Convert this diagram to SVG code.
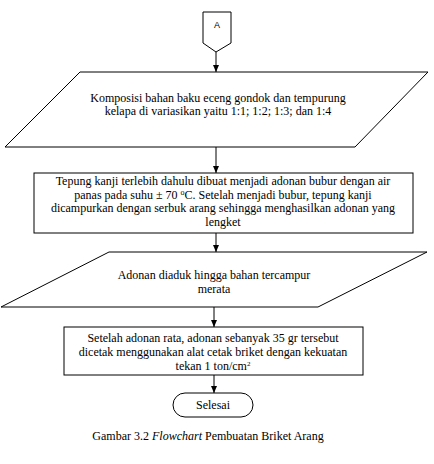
<svg xmlns="http://www.w3.org/2000/svg" width="434" height="464" viewBox="0 0 434 464">
<defs>
<style>
.s{fill:#fff;stroke:#000;stroke-width:1}
.t{font-family:"Liberation Serif","Times New Roman",serif;font-size:12px;fill:#000;text-anchor:middle}
.c{stroke:#000;stroke-width:1;fill:none;marker-end:url(#ah)}
</style>
<marker id="ah" markerWidth="8" markerHeight="8" refX="7" refY="4" orient="auto" markerUnits="userSpaceOnUse">
<path d="M0,1 L7,4 L0,7 Z" fill="#000"/>
</marker>
</defs>
<rect width="434" height="464" fill="#fff"/>
<g id="connectors">
<line class="c" x1="216" y1="52" x2="216" y2="72"/>
<line class="c" x1="216" y1="147" x2="216" y2="173"/>
<line class="c" x1="216" y1="233" x2="216" y2="252"/>
<line class="c" x1="214" y1="307" x2="214" y2="327"/>
<line class="c" x1="214" y1="375" x2="214" y2="393"/>
</g>
<g id="A">
<path class="s" d="M203,12 H231 V43 L216,52 L203,43 Z"/>
<text class="t" x="217" y="28" style="font-family:'Liberation Sans',Arial,sans-serif;font-size:9px">A</text>
</g>
<g id="komposisi">
<path class="s" d="M80,72 H428 L355,147 H5 Z"/>
<text class="t" x="218" y="102">Komposisi bahan baku eceng gondok dan tempurung</text>
<text class="t" x="218" y="115">kelapa di variasikan yaitu 1:1; 1:2; 1:3; dan 1:4</text>
</g>
<g id="tepung">
<rect class="s" x="34" y="173" width="379" height="60"/>
<text class="t" x="223" y="185">Tepung kanji terlebih dahulu dibuat menjadi adonan bubur dengan air</text>
<text class="t" x="223" y="199">panas pada suhu ± 70 <tspan dy="-4" font-size="8">o</tspan><tspan dy="4">C. Setelah menjadi bubur, tepung kanji</tspan></text>
<text class="t" x="223" y="212">dicampurkan dengan serbuk arang sehingga menghasilkan adonan yang</text>
<text class="t" x="223" y="226">lengket</text>
</g>
<g id="adonan">
<path class="s" d="M109,252 H427 L318,307 H1 Z"/>
<text class="t" x="214" y="279">Adonan diaduk hingga bahan tercampur</text>
<text class="t" x="214" y="293">merata</text>
</g>
<g id="cetak">
<rect class="s" x="64" y="327" width="299" height="48"/>
<text class="t" x="213" y="342">Setelah adonan rata, adonan sebanyak 35 gr tersebut</text>
<text class="t" x="213" y="356">dicetak menggunakan alat cetak briket dengan kekuatan</text>
<text class="t" x="213" y="370">tekan 1 ton/cm<tspan dy="-4" font-size="7">2</tspan></text>
</g>
<g id="selesai">
<rect class="s" x="173" y="393" width="80" height="24" rx="12" ry="12"/>
<text class="t" x="213" y="409">Selesai</text>
</g>
<text class="t" x="208" y="440">Gambar 3.2 <tspan font-style="italic">Flowchart</tspan> Pembuatan Briket Arang</text>
</svg>
